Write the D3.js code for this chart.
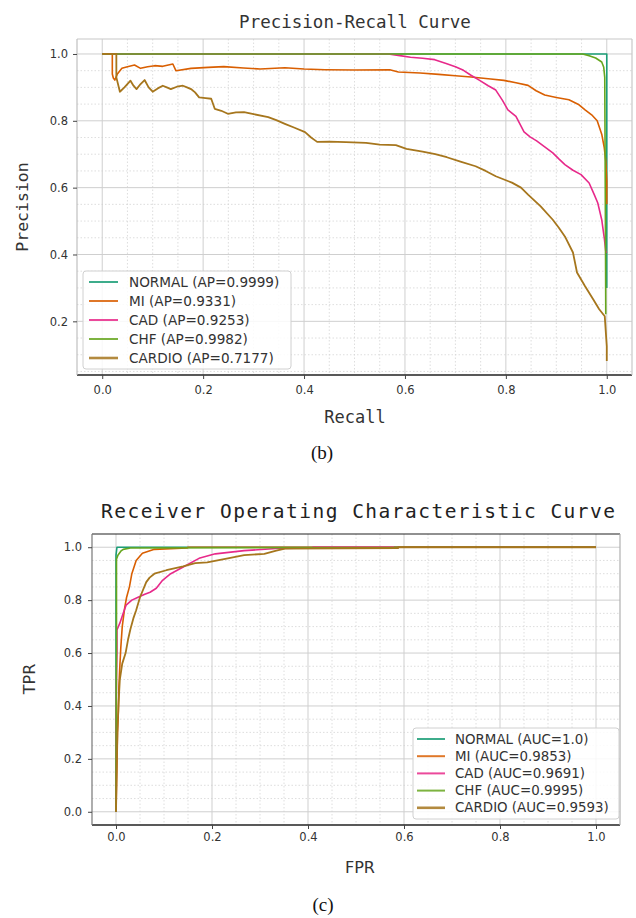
<!DOCTYPE html>
<html><head><meta charset="utf-8">
<script src="https://cdn.jsdelivr.net/npm/d3@7"></script>
<style>body{margin:0;background:#fff}</style>
</head><body><svg id="c" width="636" height="918"></svg>
<script>
// ---------- DATA ----------
const classNames = ["NORMAL", "MI", "CAD", "CHF", "CARDIO"];
const apValues = ["0.9999", "0.9331", "0.9253", "0.9982", "0.7177"];
const aucValues = ["1.0", "0.9853", "0.9691", "0.9995", "0.9593"];
const colors = ["#1b9e77", "#d95f02", "#e7298a", "#66a61e", "#a6761d"];
const majorTicks = [0.0, 0.2, 0.4, 0.6, 0.8, 1.0];
const minorTicks = [0.05, 0.1, 0.15, 0.25, 0.3, 0.35, 0.45, 0.5, 0.55, 0.65, 0.7, 0.75, 0.85, 0.9, 0.95];

// Precision-Recall: [recall, precision]
const prNormal = [[0,1],[1,1],[1,0.3]];
const prMI = [[0,1],[0.02,1],[0.02,0.94],[0.022,0.928],[0.025,0.922],[0.03,0.94],[0.039,0.957],[0.05,0.962],[0.064,0.967],[0.076,0.957],[0.09,0.962],[0.104,0.965],[0.12,0.963],[0.14,0.97],[0.146,0.95],[0.176,0.957],[0.21,0.96],[0.241,0.962],[0.28,0.958],[0.313,0.955],[0.362,0.959],[0.4,0.955],[0.442,0.953],[0.5,0.952],[0.57,0.953],[0.587,0.946],[0.63,0.943],[0.667,0.939],[0.7,0.935],[0.731,0.931],[0.77,0.925],[0.796,0.921],[0.82,0.914],[0.844,0.906],[0.86,0.89],[0.877,0.877],[0.9,0.87],[0.925,0.863],[0.945,0.848],[0.957,0.833],[0.97,0.818],[0.981,0.8],[0.99,0.76],[0.995,0.72],[0.998,0.68],[1.0,0.62],[1.0,0.55]];
const prCAD = [[0,1],[0.567,1],[0.59,0.995],[0.611,0.99],[0.635,0.987],[0.659,0.983],[0.683,0.971],[0.7,0.962],[0.716,0.951],[0.73,0.937],[0.748,0.921],[0.765,0.905],[0.78,0.892],[0.793,0.862],[0.804,0.833],[0.82,0.813],[0.836,0.767],[0.848,0.752],[0.861,0.74],[0.877,0.722],[0.893,0.704],[0.905,0.686],[0.917,0.669],[0.933,0.652],[0.949,0.639],[0.965,0.614],[0.975,0.58],[0.982,0.555],[0.99,0.504],[0.995,0.45],[0.998,0.409],[1,0.405]];
const prCHF = [[0,1],[0.952,1],[0.965,0.995],[0.978,0.988],[0.99,0.976],[0.994,0.96],[0.996,0.93],[0.997,0.6],[0.998,0.221]];
const prCardio = [[0,1],[0.028,1],[0.028,0.93],[0.035,0.887],[0.044,0.9],[0.056,0.92],[0.062,0.905],[0.068,0.895],[0.076,0.91],[0.084,0.922],[0.092,0.9],[0.1,0.887],[0.11,0.897],[0.12,0.905],[0.128,0.9],[0.136,0.895],[0.148,0.902],[0.16,0.905],[0.168,0.9],[0.176,0.895],[0.184,0.885],[0.192,0.87],[0.205,0.868],[0.216,0.866],[0.223,0.836],[0.236,0.83],[0.249,0.821],[0.265,0.825],[0.281,0.826],[0.3,0.82],[0.329,0.811],[0.345,0.802],[0.362,0.791],[0.38,0.78],[0.402,0.766],[0.414,0.75],[0.426,0.737],[0.45,0.738],[0.483,0.736],[0.523,0.734],[0.55,0.729],[0.582,0.727],[0.603,0.716],[0.635,0.708],[0.66,0.7],[0.683,0.691],[0.71,0.678],[0.74,0.664],[0.76,0.65],[0.78,0.634],[0.812,0.615],[0.83,0.6],[0.844,0.579],[0.869,0.544],[0.893,0.504],[0.905,0.48],[0.917,0.454],[0.933,0.406],[0.941,0.346],[0.957,0.305],[0.973,0.266],[0.985,0.236],[0.996,0.215],[1.0,0.125],[1.0,0.081]];

// ROC: [FPR, TPR]
const rocNormal = [[0,0],[0,0.97],[0.002,1],[1,1]];
const rocMI = [[0,0],[0.001,0.1],[0.002,0.2],[0.003,0.3],[0.005,0.38],[0.006,0.47],[0.008,0.55],[0.01,0.62],[0.013,0.7],[0.018,0.77],[0.022,0.81],[0.028,0.85],[0.033,0.9],[0.042,0.95],[0.055,0.977],[0.08,0.992],[0.148,0.997],[0.15,1],[1,1]];
const rocCAD = [[0,0],[0,0.3],[0.001,0.5],[0.002,0.6],[0.002,0.687],[0.008,0.713],[0.015,0.75],[0.021,0.781],[0.033,0.8],[0.046,0.811],[0.06,0.822],[0.071,0.83],[0.084,0.845],[0.097,0.875],[0.114,0.9],[0.14,0.925],[0.173,0.958],[0.207,0.975],[0.267,0.987],[0.334,0.995],[0.41,0.997],[0.41,1],[1,1]];
const rocCHF = [[0,0],[0,0.2],[0.001,0.6],[0.001,0.955],[0.004,0.97],[0.01,0.985],[0.015,0.992],[0.03,0.997],[0.58,0.999],[0.58,1],[1,1]];
const rocCardio = [[0,0],[0.001,0.1],[0.002,0.2],[0.003,0.3],[0.005,0.4],[0.008,0.5],[0.013,0.56],[0.02,0.6],[0.025,0.65],[0.03,0.69],[0.036,0.73],[0.042,0.762],[0.05,0.811],[0.063,0.868],[0.07,0.885],[0.08,0.9],[0.105,0.913],[0.14,0.928],[0.165,0.94],[0.19,0.943],[0.233,0.958],[0.267,0.97],[0.309,0.975],[0.334,0.987],[0.352,0.995],[0.588,0.997],[0.588,1],[1,1]];

const prSeries = [prNormal, prMI, prCAD, prCHF, prCardio];
const rocSeries = [rocNormal, rocMI, rocCAD, rocCHF, rocCardio];

// ---------- DRAW ----------
const svg = d3.select("#c");
svg.append("rect").attr("width", 636).attr("height", 918).attr("fill", "#fff");
const fmt = d3.format(".1f");
const MONO = "'DejaVu Sans Mono', monospace";
const SANS = "'DejaVu Sans', sans-serif";

function panel(cfg) {
  const g = svg.append("g");
  const x = d3.scaleLinear().domain(cfg.xDom).range([cfg.left, cfg.right]);
  const y = d3.scaleLinear().domain(cfg.yDom).range([cfg.bottom, cfg.top]);
  const clipId = "clip" + cfg.id;
  svg.append("clipPath").attr("id", clipId).append("rect")
    .attr("x", cfg.left).attr("y", cfg.top)
    .attr("width", cfg.right - cfg.left).attr("height", cfg.bottom - cfg.top);

  // minor grid
  const grid = g.append("g");
  grid.selectAll(".mx").data(minorTicks).join("line")
    .attr("x1", d => x(d)).attr("x2", d => x(d)).attr("y1", cfg.top).attr("y2", cfg.bottom)
    .attr("stroke", "#d6d6d6").attr("stroke-width", 0.8).attr("stroke-dasharray", "1.5,2");
  grid.selectAll(".my").data(minorTicks.filter(d => d > cfg.yDom[0] && d < cfg.yDom[1])).join("line")
    .attr("y1", d => y(d)).attr("y2", d => y(d)).attr("x1", cfg.left).attr("x2", cfg.right)
    .attr("stroke", "#d6d6d6").attr("stroke-width", 0.8).attr("stroke-dasharray", "1.5,2");
  // major grid
  grid.selectAll(".Mx").data(majorTicks).join("line")
    .attr("x1", d => x(d)).attr("x2", d => x(d)).attr("y1", cfg.top).attr("y2", cfg.bottom)
    .attr("stroke", "#cfcfcf").attr("stroke-width", 1);
  grid.selectAll(".My").data(majorTicks.filter(d => d >= cfg.yDom[0] && d <= cfg.yDom[1])).join("line")
    .attr("y1", d => y(d)).attr("y2", d => y(d)).attr("x1", cfg.left).attr("x2", cfg.right)
    .attr("stroke", "#cfcfcf").attr("stroke-width", 1);

  // curves
  const line = d3.line().x(d => x(d[0])).y(d => y(d[1]));
  const cg = g.append("g").attr("clip-path", `url(#${clipId})`);
  cfg.series.forEach((s, i) => {
    cg.append("path").datum(s).attr("d", line).attr("fill", "none")
      .attr("stroke", colors[i]).attr("stroke-width", i === 4 ? 1.8 : 1.6)
      .attr("stroke-linejoin", "round");
  });

  // spines
  const sp = cfg.spines;
  g.append("line").attr("x1", cfg.left).attr("x2", cfg.right).attr("y1", cfg.top).attr("y2", cfg.top).attr("stroke", sp.top).attr("stroke-width", 1.2);
  g.append("line").attr("x1", cfg.left).attr("x2", cfg.right).attr("y1", cfg.bottom).attr("y2", cfg.bottom).attr("stroke", sp.bottom).attr("stroke-width", 1.4);
  g.append("line").attr("x1", cfg.left).attr("x2", cfg.left).attr("y1", cfg.top).attr("y2", cfg.bottom).attr("stroke", sp.left).attr("stroke-width", 1.2);
  g.append("line").attr("x1", cfg.right).attr("x2", cfg.right).attr("y1", cfg.top).attr("y2", cfg.bottom).attr("stroke", sp.right).attr("stroke-width", 1.2);

  // axes
  const xa = g.append("g").attr("transform", `translate(0,${cfg.bottom})`)
    .call(d3.axisBottom(x).tickValues(majorTicks).tickFormat(fmt).tickSize(4).tickPadding(cfg.xPad));
  const ya = g.append("g").attr("transform", `translate(${cfg.left},0)`)
    .call(d3.axisLeft(y).tickValues(majorTicks.filter(d => d >= cfg.yDom[0])).tickFormat(fmt).tickSize(4).tickPadding(cfg.yPad));
  [xa, ya].forEach(a => {
    a.select(".domain").remove();
    a.selectAll(".tick line").attr("stroke", "#444");
    a.selectAll("text").attr("font-family", SANS).attr("font-size", 11.5).attr("fill", "#333");
  });

  // legend
  const L = cfg.legend;
  const lg = g.append("g");
  lg.append("rect").attr("x", L.x).attr("y", L.y).attr("width", L.w).attr("height", L.h)
    .attr("rx", 3).attr("fill", "#fff").attr("fill-opacity", 0.85).attr("stroke", "#d0d0d0");
  classNames.forEach((n, i) => {
    const yy = L.y0 + i * L.dy;
    lg.append("line").attr("x1", L.lx1).attr("x2", L.lx2).attr("y1", yy).attr("y2", yy)
      .attr("stroke", colors[i]).attr("stroke-width", i === 4 ? 2.6 : 2).attr("stroke-opacity", 0.85);
    lg.append("text").attr("x", L.tx).attr("y", yy).attr("dy", "0.35em")
      .attr("font-family", SANS).attr("font-size", L.fs).attr("fill", "#333")
      .text(`${n} (${cfg.metric}=${cfg.values[i]})`);
  });
  return {x, y};
}

// (b) Precision-Recall
panel({
  id: "pr", left: 77, right: 632, top: 39, bottom: 375,
  xDom: [-0.05, 1.05], yDom: [0.0394, 1.0448],
  series: prSeries, xPad: 7, yPad: 5,
  spines: {top: "#c8c8c8", bottom: "#222", left: "#c0c0c0", right: "#c8c8c8"},
  legend: {x: 83, y: 271, w: 208, h: 98, y0: 282, dy: 19, lx1: 89, lx2: 118, tx: 129, fs: 13.6},
  metric: "AP", values: apValues
});
svg.append("text").attr("x", 355).attr("y", 28).attr("text-anchor", "middle")
  .attr("font-family", MONO).attr("font-size", 17.5).attr("fill", "#333").text("Precision-Recall Curve");
svg.append("text").attr("x", 355).attr("y", 423).attr("text-anchor", "middle")
  .attr("font-family", MONO).attr("font-size", 17).attr("fill", "#333").text("Recall");
svg.append("text").attr("transform", "translate(22,207) rotate(-90)").attr("text-anchor", "middle").attr("dy", "0.35em")
  .attr("font-family", MONO).attr("font-size", 16.5).attr("fill", "#333").text("Precision");
svg.append("text").attr("x", 322).attr("y", 459).attr("text-anchor", "middle")
  .attr("font-family", "'Liberation Serif', 'Times New Roman', serif").attr("font-size", 19).attr("fill", "#111").text("(b)");

// (c) ROC
panel({
  id: "roc", left: 92, right: 620, top: 534, bottom: 825,
  xDom: [-0.05, 1.05], yDom: [-0.05, 1.05],
  series: rocSeries, xPad: 4, yPad: 6,
  spines: {top: "#222", bottom: "#222", left: "#777", right: "#b0b0b0"},
  legend: {x: 413, y: 728, w: 206, h: 91, y0: 739, dy: 17.2, lx1: 417, lx2: 445, tx: 455, fs: 13.4},
  metric: "AUC", values: aucValues
});
svg.append("text").attr("x", 358).attr("y", 518).attr("text-anchor", "middle")
  .attr("font-family", MONO).attr("font-size", 19.5).attr("fill", "#222")
  .attr("textLength", 514).attr("lengthAdjust", "spacing")
  .text("Receiver Operating Characteristic Curve");
svg.append("text").attr("x", 360).attr("y", 873).attr("text-anchor", "middle")
  .attr("font-family", SANS).attr("font-size", 16).attr("fill", "#333").text("FPR");
svg.append("text").attr("transform", "translate(29,679) rotate(-90)").attr("text-anchor", "middle").attr("dy", "0.35em")
  .attr("font-family", SANS).attr("font-size", 16).attr("fill", "#333").text("TPR");
svg.append("text").attr("x", 323).attr("y", 911).attr("text-anchor", "middle")
  .attr("font-family", "'Liberation Serif', 'Times New Roman', serif").attr("font-size", 19).attr("fill", "#111").text("(c)");
</script>
</body></html>
